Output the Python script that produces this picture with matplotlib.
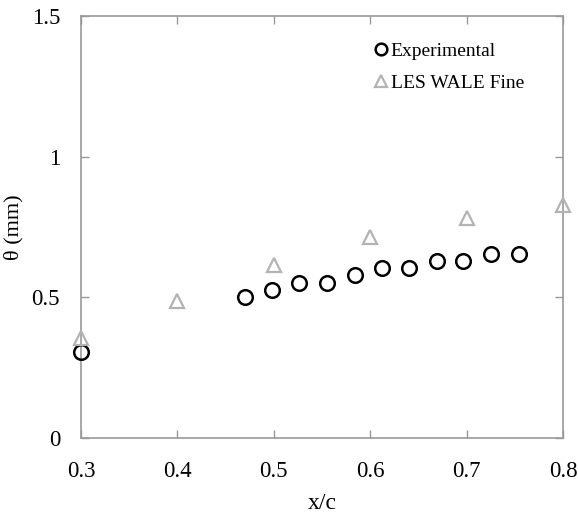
import matplotlib
matplotlib.use('Agg')
import matplotlib.pyplot as plt
from matplotlib.ticker import FuncFormatter

plt.rcParams['font.family'] = ['Liberation Serif', 'DejaVu Serif']

# data
exp_x = [0.300, 0.470, 0.498, 0.526, 0.555, 0.584, 0.612, 0.640, 0.669, 0.696, 0.725, 0.754]
exp_y = [0.306, 0.500, 0.526, 0.551, 0.551, 0.579, 0.604, 0.604, 0.629, 0.629, 0.654, 0.654]
les_x = [0.3, 0.4, 0.5, 0.6, 0.7, 0.8]
les_y = [0.355, 0.488, 0.615, 0.713, 0.781, 0.828]

fig = plt.figure(figsize=(5.78, 5.15), dpi=100)
ax = fig.add_axes([0.140, 0.150, 0.834, 0.819])

ax.plot(exp_x, exp_y, 'o', ms=10.5, mfc='none', mec='black', mew=1.8,
        label='Experimental', clip_on=False, zorder=3)
ax.plot(les_x, les_y, '^', ms=10, mfc='none', mec='#b3b3b3', mew=1.6,
        label='LES WALE Fine', clip_on=False, zorder=3)

ax.set_xlim(0.3, 0.8)
ax.set_ylim(0, 1.5)
ax.set_xticks([0.3, 0.4, 0.5, 0.6, 0.7, 0.8])
ax.set_yticks([0, 0.5, 1, 1.5])
ax.yaxis.set_major_formatter(FuncFormatter(lambda v, p: '%g' % v))

for s in ax.spines.values():
    s.set_color('#999999')
    s.set_linewidth(1.2)
ax.tick_params(direction='in', top=True, right=True, length=6, width=1,
               color='#999999', labelsize=16.5)
ax.tick_params(axis='x', pad=17)
ax.tick_params(axis='y', pad=15)

ax.set_xlabel('x/c', fontsize=17, labelpad=8)
ax.set_ylabel('θ (mm)', fontsize=16, labelpad=6)

leg = ax.legend(loc='upper right', frameon=False, fontsize=14, handletextpad=0.0,
                handlelength=1.0, labelspacing=0.75, markerscale=0.8,
                bbox_to_anchor=(0.955, 0.98))

fig.savefig('out.png', dpi=100)
